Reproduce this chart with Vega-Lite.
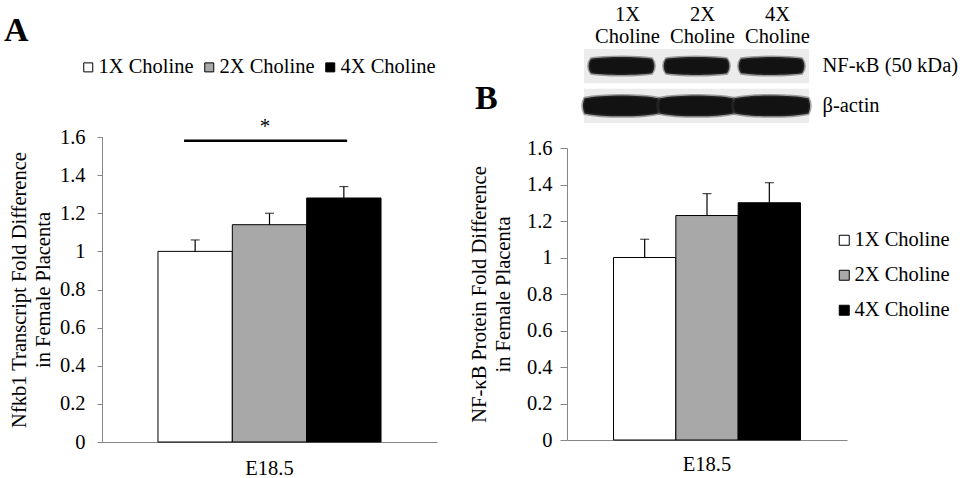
{
  "$schema": "https://vega.github.io/schema/vega-lite/v6.json",
  "background": "white",
  "padding": {"left": 4, "top": 4, "right": 0, "bottom": 0},
  "config": {
    "font": "Liberation Serif",
    "view": {"stroke": null},
    "axis": {"labelFontSize": 20.5, "labelColor": "black", "titleFontSize": 20.5, "titleFontWeight": "normal", "titleColor": "black", "domainColor": "#868686", "tickColor": "#868686", "grid": false, "labelOverlap": false, "labelSeparation": 0},
    "legend": {"symbolType": "square", "symbolStrokeColor": "black", "symbolStrokeWidth": 1, "labelFontSize": 20.5, "labelColor": "black", "title": null},
    "title": {"color": "black", "fontWeight": "bold", "fontSize": 34}
  },
  "datasets": {
    "barsA": [
      {"time": "E18.5", "group": "1X Choline", "mean": 1.0, "upper": 1.06},
      {"time": "E18.5", "group": "2X Choline", "mean": 1.14, "upper": 1.2},
      {"time": "E18.5", "group": "4X Choline", "mean": 1.28, "upper": 1.34}
    ],
    "barsB": [
      {"time": "E18.5", "group": "1X Choline", "mean": 1.0, "upper": 1.1},
      {"time": "E18.5", "group": "2X Choline", "mean": 1.23, "upper": 1.35},
      {"time": "E18.5", "group": "4X Choline", "mean": 1.3, "upper": 1.41}
    ],
    "sigA": [{"time": "E18.5", "y": 1.58, "label": "*"}],
    "blot": [
      {"lane": "1X Choline", "protein": "NF-κB (50 kDa)"},
      {"lane": "2X Choline", "protein": "NF-κB (50 kDa)"},
      {"lane": "4X Choline", "protein": "NF-κB (50 kDa)"},
      {"lane": "1X Choline", "protein": "β-actin"},
      {"lane": "2X Choline", "protein": "β-actin"},
      {"lane": "4X Choline", "protein": "β-actin"}
    ]
  },
  "hconcat": [
    {
      "spacing": 0,
      "vconcat": [
        {
          "width": 335,
          "height": 66,
          "title": {"text": "A", "anchor": "start", "frame": "group", "offset": 1, "dx": -98},
          "data": {"values": []},
          "mark": "point"
        },
        {
          "width": 335,
          "height": 305,
          "layer": [
            {
              "data": {"name": "barsA"},
              "mark": {"type": "bar", "stroke": "black", "strokeWidth": 1},
              "encoding": {
                "x": {"field": "time", "type": "nominal", "scale": {"paddingOuter": 0.251, "paddingInner": 0}, "axis": {"title": null, "labelAngle": 0, "ticks": false, "labelPadding": 16}},
                "xOffset": {"field": "group", "type": "nominal", "scale": {"paddingInner": 0, "paddingOuter": 0}},
                "y": {"field": "mean", "type": "quantitative", "scale": {"domain": [0, 1.6], "nice": false}, "axis": {"tickCount": 8, "format": "~g", "labelOverlap": false, "title": ["Nfkb1 Transcript Fold Difference", "in Female Placenta"], "titleLineHeight": 24, "tickSize": 5, "labelPadding": 12, "titlePadding": 6}},
                "color": {"field": "group", "type": "nominal", "scale": {"domain": ["1X Choline", "2X Choline", "4X Choline"], "range": ["white", "#a8a8a8", "black"]}, "legend": {"orient": "none", "direction": "horizontal", "legendX": -24, "legendY": 8, "symbolSize": 81, "labelOffset": 0, "columnPadding": 5}}
              }
            },
            {
              "data": {"name": "barsA"},
              "mark": {"type": "rule", "color": "black", "strokeWidth": 1.2},
              "encoding": {
                "x": {"field": "time", "type": "nominal"},
                "xOffset": {"field": "group", "type": "nominal"},
                "y": {"field": "mean", "type": "quantitative"},
                "y2": {"field": "upper"}
              }
            },
            {
              "data": {"name": "barsA"},
              "mark": {"type": "tick", "color": "black", "size": 9, "thickness": 1.2},
              "encoding": {
                "x": {"field": "time", "type": "nominal"},
                "xOffset": {"field": "group", "type": "nominal"},
                "y": {"field": "upper", "type": "quantitative"}
              }
            },
            {
              "data": {"name": "sigA"},
              "mark": {"type": "rule", "color": "black", "strokeWidth": 2.5},
              "encoding": {
                "x": {"field": "time", "type": "nominal", "bandPosition": 0.117},
                "x2": {"field": "time", "bandPosition": 0.848},
                "y": {"field": "y", "type": "quantitative"}
              }
            },
            {
              "data": {"name": "sigA"},
              "mark": {"type": "text", "color": "black", "fontSize": 21, "baseline": "alphabetic", "dy": -8},
              "encoding": {
                "x": {"field": "time", "type": "nominal", "bandPosition": 0.48},
                "y": {"field": "y", "type": "quantitative"},
                "text": {"field": "label"}
              }
            }
          ]
        }
      ]
    },
    {
      "spacing": 15,
      "resolve": {"scale": {"x": "independent", "y": "independent"}},
      "vconcat": [
        {
          "width": 242,
          "height": 74,
          "title": {"text": "B", "orient": "bottom", "anchor": "start", "frame": "group", "offset": 0, "dx": -92, "dy": -41},
          "data": {"name": "blot"},
          "layer": [
            {
              "mark": {"type": "rect", "color": "#ececec"},
              "encoding": {
                "x": {"field": "lane", "type": "nominal", "sort": ["1X Choline", "2X Choline", "4X Choline"], "scale": {"paddingInner": 0, "paddingOuter": 0.1133, "align": 1}, "axis": {"orient": "top", "title": null, "ticks": false, "domain": false, "labelAngle": 0, "labelPadding": 25, "labelOffset": 6, "labelLineHeight": 22, "labelExpr": "[slice(datum.label, 0, 2), 'Choline']"}},
                "y": {"field": "protein", "type": "nominal", "sort": ["NF-κB (50 kDa)", "β-actin"], "scale": {"paddingInner": 0.14, "paddingOuter": 0}, "axis": {"orient": "right", "title": null, "ticks": false, "domain": false, "labelPadding": 13, "labelAlign": "left"}}
              }
            },
            {
              "transform": [{"filter": "datum.protein === 'NF-κB (50 kDa)'"}],
              "mark": {"type": "point", "filled": true, "color": "#121212", "opacity": 1, "stroke": "#3a3a3a", "strokeWidth": 3, "strokeOpacity": 0.45, "size": 4356, "shape": "M-0.92,-0.22 C-0.5,-0.29 0.5,-0.29 0.92,-0.22 C1.02,-0.1 1.02,0.1 0.92,0.22 C0.5,0.29 -0.5,0.29 -0.92,0.22 C-1.02,0.1 -1.02,-0.1 -0.92,-0.22 Z"},
              "encoding": {
                "x": {"field": "lane", "type": "nominal", "sort": ["1X Choline", "2X Choline", "4X Choline"]},
                "y": {"field": "protein", "type": "nominal", "sort": ["NF-κB (50 kDa)", "β-actin"]}
              }
            },
            {
              "transform": [{"filter": "datum.protein === 'β-actin'"}],
              "mark": {"type": "point", "filled": true, "color": "#121212", "opacity": 1, "stroke": "#3a3a3a", "strokeWidth": 3, "strokeOpacity": 0.45, "size": 5776, "shape": "M-0.97,-0.2 C-0.5,-0.3 0.5,-0.3 0.97,-0.2 C1.03,-0.08 1.03,0.08 0.97,0.2 C0.5,0.3 -0.5,0.3 -0.97,0.2 C-1.03,0.08 -1.03,-0.08 -0.97,-0.2 Z"},
              "encoding": {
                "x": {"field": "lane", "type": "nominal", "sort": ["1X Choline", "2X Choline", "4X Choline"]},
                "y": {"field": "protein", "type": "nominal", "sort": ["NF-κB (50 kDa)", "β-actin"]}
              }
            }
          ]
        },
        {
          "width": 280,
          "height": 292,
          "layer": [
            {
              "data": {"name": "barsB"},
              "mark": {"type": "bar", "stroke": "black", "strokeWidth": 1},
              "encoding": {
                "x": {"field": "time", "type": "nominal", "scale": {"paddingOuter": 0.2487, "paddingInner": 0}, "axis": {"title": null, "labelAngle": 0, "ticks": false, "labelPadding": 14}},
                "xOffset": {"field": "group", "type": "nominal", "scale": {"paddingInner": 0, "paddingOuter": 0}},
                "y": {"field": "mean", "type": "quantitative", "scale": {"domain": [0, 1.6], "nice": false}, "axis": {"tickCount": 8, "format": "~g", "labelOverlap": false, "title": ["NF-κB Protein Fold Difference", "in Female Placenta"], "titleLineHeight": 24, "tickSize": 7, "labelPadding": 8, "titlePadding": 13}},
                "color": {"field": "group", "type": "nominal", "scale": {"domain": ["1X Choline", "2X Choline", "4X Choline"], "range": ["white", "#a8a8a8", "black"]}, "legend": {"orient": "none", "direction": "vertical", "legendX": 267, "legendY": 181, "symbolSize": 100, "labelOffset": 0, "rowPadding": 14}}
              }
            },
            {
              "data": {"name": "barsB"},
              "mark": {"type": "rule", "color": "black", "strokeWidth": 1.2},
              "encoding": {
                "x": {"field": "time", "type": "nominal"},
                "xOffset": {"field": "group", "type": "nominal"},
                "y": {"field": "mean", "type": "quantitative"},
                "y2": {"field": "upper"}
              }
            },
            {
              "data": {"name": "barsB"},
              "mark": {"type": "tick", "color": "black", "size": 9, "thickness": 1.2},
              "encoding": {
                "x": {"field": "time", "type": "nominal"},
                "xOffset": {"field": "group", "type": "nominal"},
                "y": {"field": "upper", "type": "quantitative"}
              }
            }
          ]
        }
      ]
    }
  ],
  "spacing": 32,
  "resolve": {"scale": {"color": "independent", "x": "independent", "y": "independent", "xOffset": "independent"}, "legend": {"color": "independent"}}
}
